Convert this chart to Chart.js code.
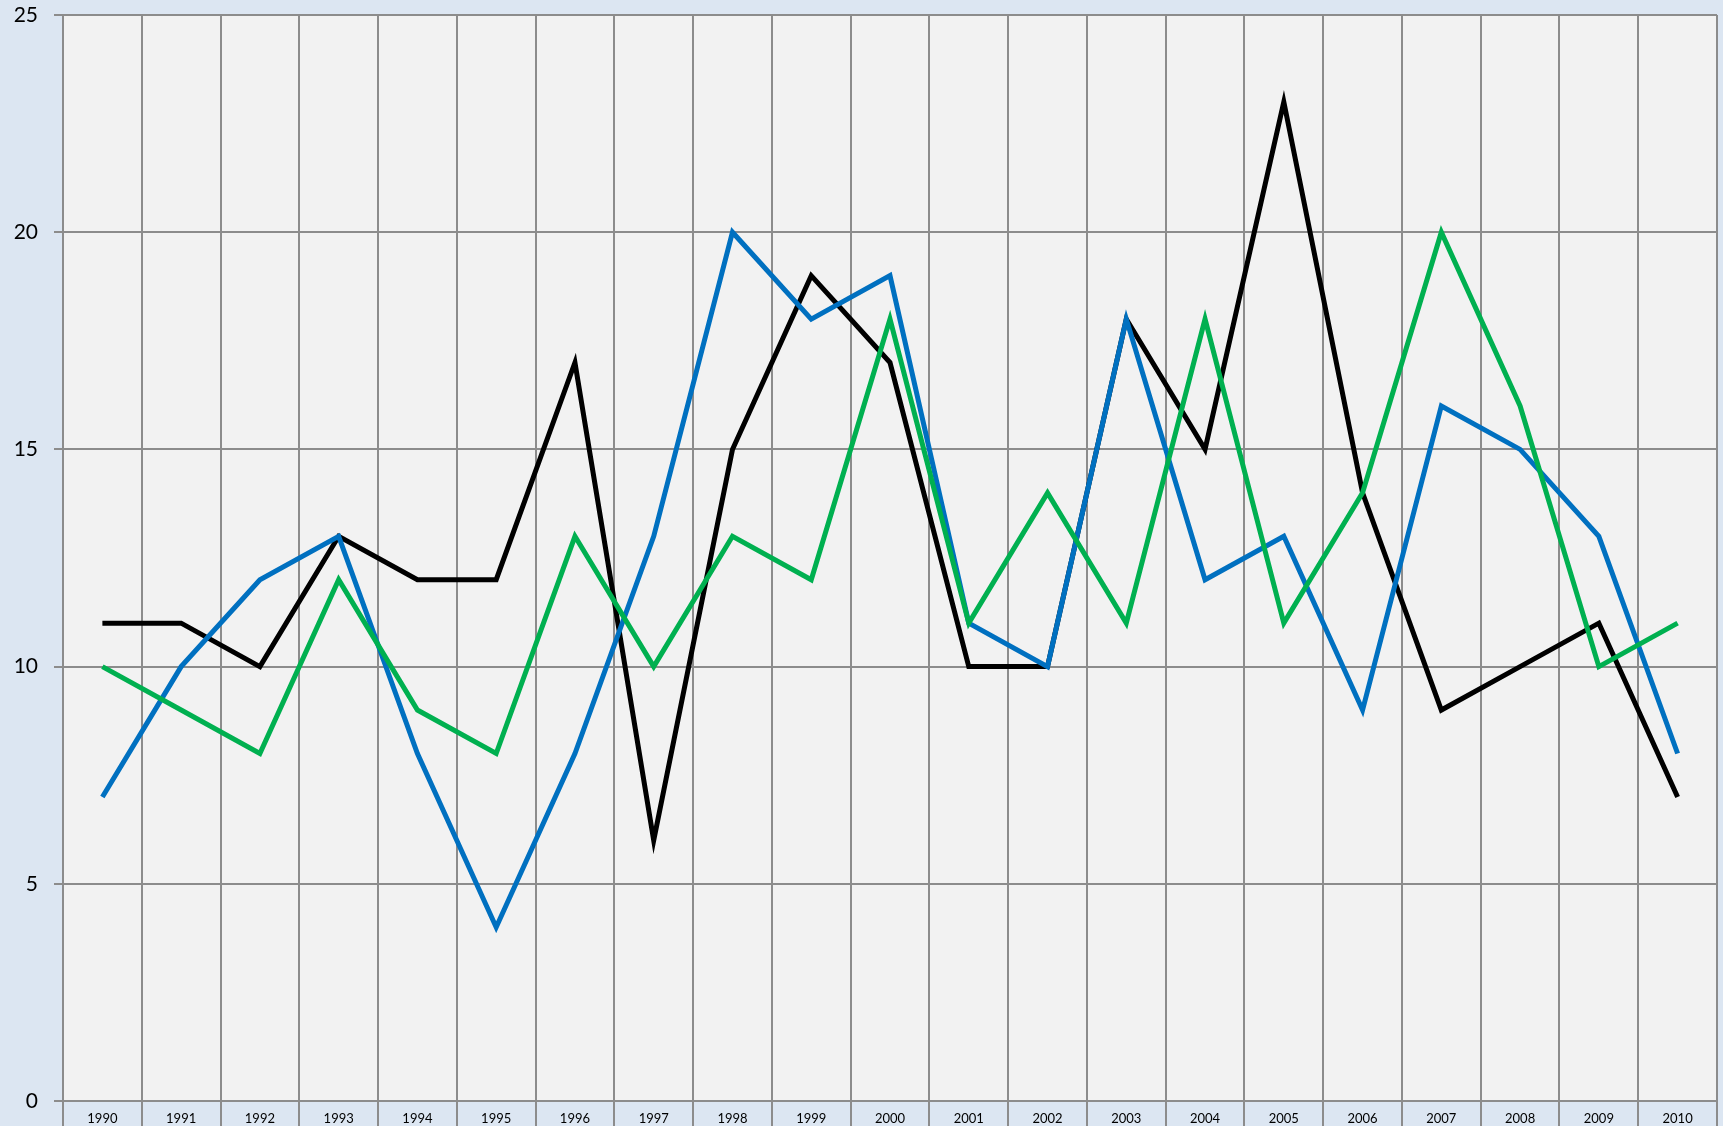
<!DOCTYPE html>
<html lang="en">
  <head>
    <meta charset="UTF-8" />
    <title>Yearly series 1990-2010</title>
    <script src="https://cdn.jsdelivr.net/npm/chart.js@4.4.1/dist/chart.umd.min.js"></script>
    <style>
      body { margin: 0; background: #dce6f2; }
      #wrap { width: 1723px; height: 1126px; }
    </style>
  </head>
  <body>
    <div id="wrap"><canvas id="yearChart"></canvas></div>
  </body>
  <script>
    const years = ["1990", "1991", "1992", "1993", "1994", "1995", "1996", "1997", "1998", "1999", "2000",
      "2001", "2002", "2003", "2004", "2005", "2006", "2007", "2008", "2009", "2010"];
    const blackSeries = [11, 11, 10, 13, 12, 12, 17, 6, 15, 19, 17, 10, 10, 18, 15, 23, 14, 9, 10, 11, 7];
    const blueSeries = [7, 10, 12, 13, 8, 4, 8, 13, 20, 18, 19, 11, 10, 18, 12, 13, 9, 16, 15, 13, 8];
    const greenSeries = [10, 9, 8, 12, 9, 8, 13, 10, 13, 12, 18, 11, 14, 11, 18, 11, 14, 20, 16, 10, 11];

    // grey plot area behind the grid
    const plotBg = {
      id: "plotBg",
      beforeDraw(chart) {
        const {ctx, chartArea: a} = chart;
        ctx.save();
        ctx.fillStyle = "#f2f2f2";
        ctx.fillRect(a.left, a.top, a.right - a.left, a.bottom - a.top);
        ctx.restore();
      },
    };

    const line = (data, color) => ({
      data: data,
      borderColor: color,
      borderWidth: 5,
      pointRadius: 0,
      tension: 0,
      fill: false,
    });

    const ctx = document.getElementById("yearChart").getContext("2d");
    new Chart(ctx, {
      type: "line",
      data: {
        labels: years,
        // first dataset is drawn on top
        datasets: [line(greenSeries, "#00b050"), line(blueSeries, "#0070c0"), line(blackSeries, "#000000")],
      },
      options: {
        responsive: true,
        maintainAspectRatio: false,
        animation: false,
        layout: {padding: {top: 15, right: 6, left: 0, bottom: 0}},
        plugins: {legend: {display: false}, tooltip: {enabled: false}},
        scales: {
          x: {
            offset: true,
            grid: {offset: true, color: "#8c8c8c", lineWidth: 2, tickLength: 25},
            border: {color: "#8c8c8c", width: 2},
            ticks: {color: "#000", padding: -15, maxRotation: 0, font: {family: "Lato", size: 13}},
            afterFit: (s) => { s.height = 25; s.paddingLeft = 0; s.paddingRight = 0; },
          },
          y: {
            min: 0,
            max: 25,
            grid: {color: "#8c8c8c", lineWidth: 2, tickLength: 9},
            border: {color: "#8c8c8c", width: 2},
            ticks: {stepSize: 5, color: "#000", padding: 16, font: {family: "Lato", size: 21}},
            afterFit: (s) => { s.width = 63; s.paddingTop = 0; s.paddingBottom = 0; },
          },
        },
      },
      plugins: [plotBg],
    });
  </script>
</html>
